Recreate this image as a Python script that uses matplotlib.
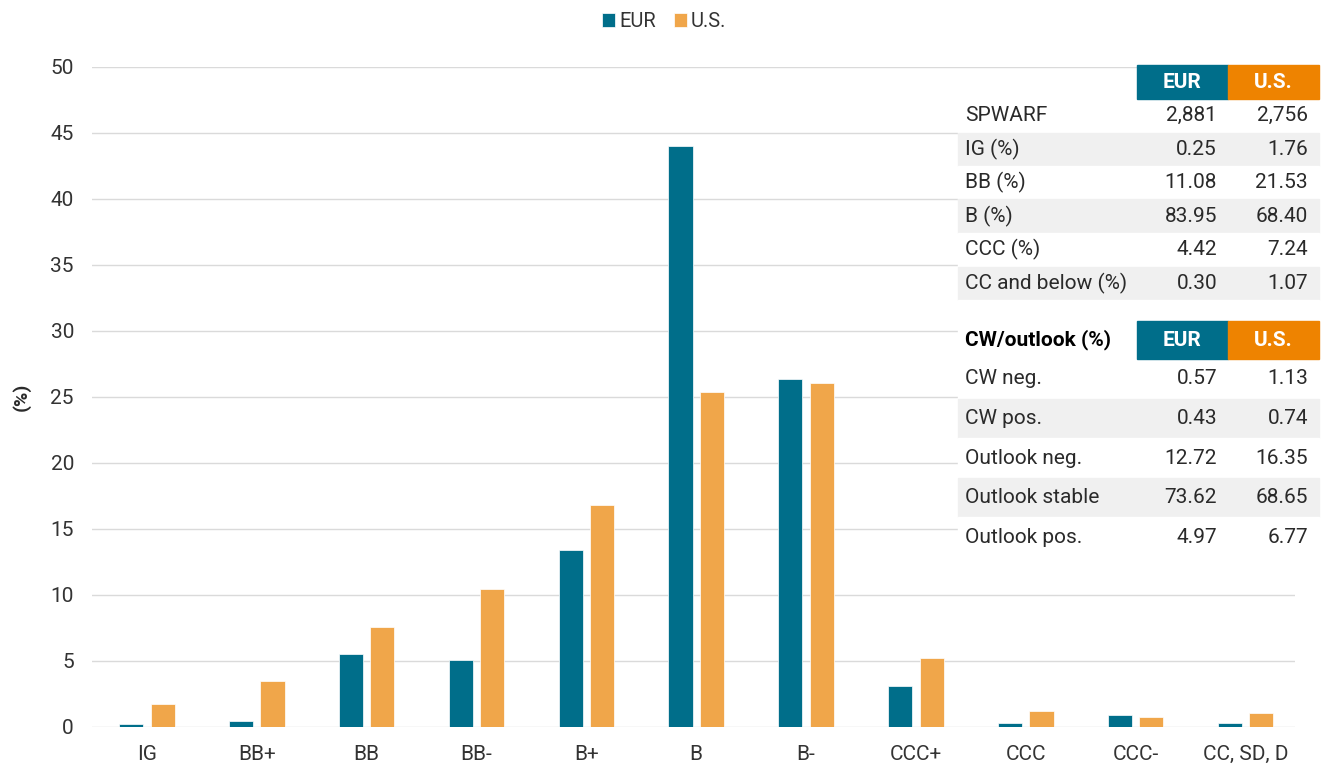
import matplotlib.pyplot as plt
import matplotlib.patches as mpatches
import numpy as np

plt.rcParams['font.family'] = ['Roboto', 'DejaVu Sans']

# bar chart data
categories = ['IG', 'BB+', 'BB', 'BB-', 'B+', 'B', 'B-', 'CCC+', 'CCC', 'CCC-', 'CC, SD, D']
eur = [0.25, 0.45, 5.5, 5.05, 13.4, 44.0, 26.4, 3.1, 0.33, 0.92, 0.28]
us = [1.75, 3.5, 7.6, 10.45, 16.8, 25.4, 26.05, 5.22, 1.22, 0.72, 1.07]

# side tables
rating_rows = ['SPWARF', 'IG (%)', 'BB (%)', 'B (%)', 'CCC (%)', 'CC and below (%)']
rating_eur = ['2,881', '0.25', '11.08', '83.95', '4.42', '0.30']
rating_us = ['2,756', '1.76', '21.53', '68.40', '7.24', '1.07']
outlook_rows = ['CW neg.', 'CW pos.', 'Outlook neg.', 'Outlook stable', 'Outlook pos.']
outlook_eur = ['0.57', '0.43', '12.72', '73.62', '4.97']
outlook_us = ['1.13', '0.74', '16.35', '68.65', '6.77']

teal = '#006E8A'
orange_bar = '#F0A64A'
orange_head = '#EE8300'
stripe = '#F0F0F0'
text_col = '#2A2A2A'
fs = 15

W, H = 1328, 765
fig = plt.figure(figsize=(W / 100, H / 100), dpi=100)
ax = fig.add_axes([92 / W, 1 - 727 / H, (1295 - 92) / W, (727 - 67) / H])

x = np.arange(len(categories))
bw = 0.22
ax.bar(x - 0.143, eur, bw, color=teal, edgecolor='white', linewidth=0.5, label='EUR', zorder=3)
ax.bar(x + 0.143, us, bw, color=orange_bar, edgecolor='white', linewidth=0.5, label='U.S.', zorder=3)

ax.set_xlim(-0.5, 10.45)
ax.set_ylim(0, 50)
ax.set_yticks(range(0, 51, 5))
ax.set_xticks(x)
ax.set_xticklabels(categories)
ax.grid(axis='y', color='#DADADA', linewidth=1, zorder=0)
ax.set_axisbelow(True)
for s in ax.spines.values():
    s.set_visible(False)
ax.tick_params(axis='both', length=0, labelsize=fs, labelcolor='#333333')
ax.tick_params(axis='y', pad=13)
ax.tick_params(axis='x', pad=13)
ax.set_ylabel('(%)', fontsize=14, fontweight='bold', color=text_col, labelpad=14)

fig.legend(loc='upper center', bbox_to_anchor=(0.5, 1.008), ncol=2, frameon=False,
           prop={'size': 14.5}, handlelength=0.65, handleheight=0.65,
           handletextpad=0.2, columnspacing=0.9, labelcolor='#333333')


def fx(px):
    return px / W


def fy(py):
    return 1 - py / H


def box(x0, y0, x1, y1, color, z=4):
    fig.patches.append(mpatches.Rectangle((fx(x0), fy(y1)), fx(x1) - fx(x0), fy(y0) - fy(y1),
                                          transform=fig.transFigure, color=color, zorder=z))


def draw_table(head_top, head_bot, row_h, rows, col1, col2, header_label):
    box(1137, head_top, 1228, head_bot, teal, 5)
    box(1228, head_top, 1319, head_bot, orange_head, 5)
    hy = (head_top + head_bot) / 2
    fig.text(fx(1182), fy(hy), 'EUR', ha='center', va='center', color='white',
             fontsize=fs, fontweight='bold', zorder=6)
    fig.text(fx(1273), fy(hy), 'U.S.', ha='center', va='center', color='white',
             fontsize=fs, fontweight='bold', zorder=6)
    if header_label:
        fig.text(fx(965), fy(hy), header_label, ha='left', va='center', color='black',
                 fontsize=fs, fontweight='bold', zorder=6)
    for i in range(len(rows)):
        top = head_bot + i * row_h
        box(958, top, 1319, top + row_h, stripe if i % 2 == 1 else 'white')
        cy = top + row_h / 2
        fig.text(fx(965), fy(cy), rows[i], ha='left', va='center', color=text_col,
                 fontsize=fs, zorder=6)
        fig.text(fx(1217), fy(cy), col1[i], ha='right', va='center', color=text_col,
                 fontsize=fs, zorder=6)
        fig.text(fx(1308), fy(cy), col2[i], ha='right', va='center', color=text_col,
                 fontsize=fs, zorder=6)


draw_table(65, 99, 33.5, rating_rows, rating_eur, rating_us, None)
box(958, 300, 1319, 321, 'white')
box(958, 321, 1137, 359, 'white')
draw_table(321, 359, 39.6, outlook_rows, outlook_eur, outlook_us, 'CW/outlook (%)')

fig.savefig('out.png', dpi=100)
